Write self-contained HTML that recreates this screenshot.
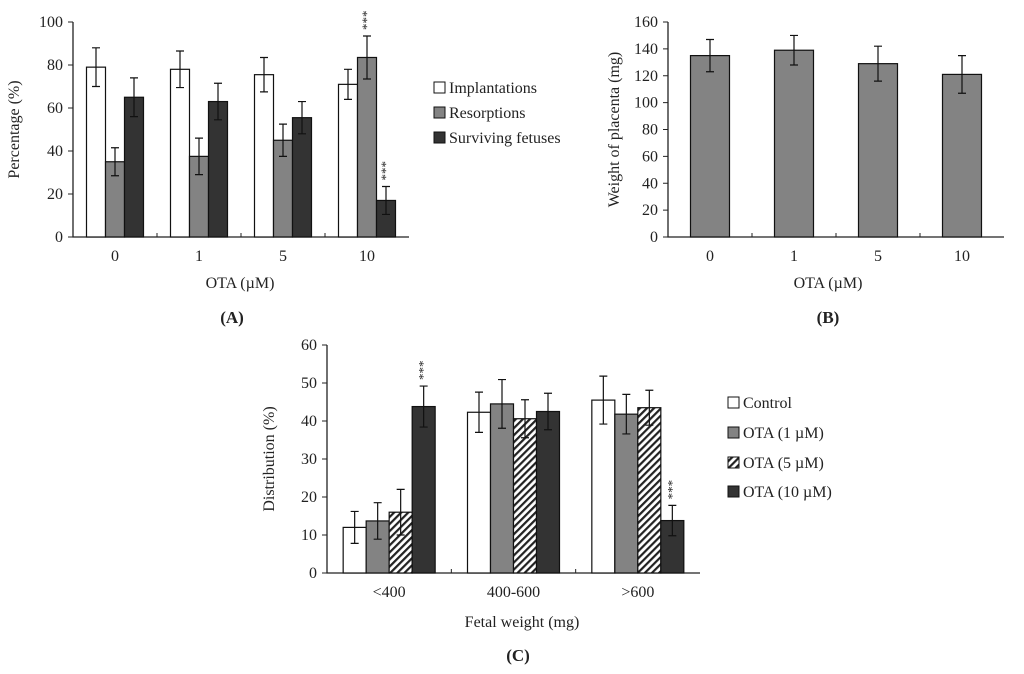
<!DOCTYPE html>
<html><head><meta charset="utf-8"><style>
body{margin:0;background:#fff;width:1024px;height:669px;overflow:hidden}
svg{font-family:"Liberation Serif",serif;font-size:16px;fill:#222}
</style></head><body>
<svg id="s" width="1024" height="669">
<defs><pattern id="hatch" patternUnits="userSpaceOnUse" width="5" height="5" patternTransform="rotate(45)"><rect width="5" height="5" fill="#fff"/><rect width="2.2" height="5" fill="#222"/></pattern></defs>
</svg>
<script>
// Panel A data
const catsA=["0","1","5","10"];
const implA=[79,78,75.5,71], implErrA=[9,8.5,8,7];
const resA=[35,37.5,45,83.5], resErrA=[6.5,8.5,7.5,10];
const survA=[65,63,55.5,17], survErrA=[9,8.5,7.5,6.5];
const ticksA=[0,20,40,60,80,100];
// Panel B data
const catsB=["0","1","5","10"];
const placB=[135,139,129,121], placErrB=[12,11,13,14];
const ticksB=[0,20,40,60,80,100,120,140,160];
// Panel C data
const catsC=["<400","400-600",">600"];
const ctrlC=[12,42.3,45.5], ctrlErrC=[4.2,5.3,6.3];
const ota1C=[13.7,44.5,41.8], ota1ErrC=[4.8,6.4,5.2];
const ota5C=[16,40.6,43.5], ota5ErrC=[6,5,4.6];
const ota10C=[43.8,42.5,13.8], ota10ErrC=[5.4,4.8,4];
const ticksC=[0,10,20,30,40,50,60];

const svg=document.getElementById('s');
const NS="http://www.w3.org/2000/svg";
function mk(tag,attrs,parent){const e=document.createElementNS(NS,tag);for(const k in attrs)e.setAttribute(k,attrs[k]);(parent||svg).appendChild(e);return e;}
function txt(x,y,s,parent,anchor,rot){const t=mk('text',{x:x,y:y,'text-anchor':anchor||'middle'},parent);if(rot)t.setAttribute('transform',`rotate(-90 ${x} ${y})`);t.textContent=s;return t;}

function chart(name,x0,x1,yTop,yBot,max,ticks,cats,series,barW,ytitle,ytx){
  const g=mk('g',{},svg);
  
  
  const ys=v=>yBot-(v/max)*(yBot-yTop);
  const cw=(x1-x0)/cats.length;
  const ax=mk('path',{d:`M${x0},${yTop}V${yBot}H${x1}`,stroke:'#222',fill:'none','stroke-width':1.3},g);
  
  
  ticks.forEach(t=>{mk('line',{x1:x0-5,x2:x0,y1:ys(t),y2:ys(t),stroke:'#222'},g);
    const l=txt(x0-10,ys(t)+5,String(t),g,'end');
    
    });
  for(let i=1;i<cats.length;i++)mk('line',{x1:x0+i*cw,x2:x0+i*cw,y1:yBot,y2:yBot-4,stroke:'#222'},g);
  cats.forEach((c,i)=>{const l=txt(x0+(i+0.5)*cw,yBot+24,c,g);
    
    });
  const n=series.length;
  series.forEach((s,si)=>{
    s.vals.forEach((v,i)=>{
      const cx=x0+(i+0.5)*cw, bx=cx-n*barW/2+si*barW;
      const r=mk('rect',{x:bx,y:ys(v),width:barW,height:yBot-ys(v),fill:s.fill,stroke:'#111','stroke-width':1.2},g);
      
      
      const m=bx+barW/2,e=s.err[i];
      mk('path',{d:`M${m},${ys(v+e)}V${ys(v-e)}M${m-4},${ys(v+e)}H${m+4}M${m-4},${ys(v-e)}H${m+4}`,stroke:'#111','stroke-width':1.2,fill:'none'},g);
      if(s.sig&&s.sig[i]){const t=mk('text',{x:m,y:ys(v+e)-6,'font-size':13,'text-anchor':'start',transform:`rotate(-90 ${m} ${ys(v+e)-6})`,dy:4},g);t.textContent='***';}
    });
  });
  const yt=txt(ytx,(yTop+yBot)/2,ytitle,g,'middle',true);
  
  
}
chart('chart-a',73,409,22,237,100,ticksA,catsA,[
 {key:'implantations',vals:implA,err:implErrA,fill:'#fff'},
 {key:'resorptions',vals:resA,err:resErrA,fill:'#838383',sig:[0,0,0,1]},
 {key:'surviving',vals:survA,err:survErrA,fill:'#333',sig:[0,0,0,1]}],19,'Percentage (%)',19);
chart('chart-b',668,1004,22,237,160,ticksB,catsB,[
 {key:'placenta',vals:placB,err:placErrB,fill:'#838383'}],39,'Weight of placenta (mg)',619);
chart('chart-c',327,700,345,573,60,ticksC,catsC,[
 {key:'control',vals:ctrlC,err:ctrlErrC,fill:'#fff'},
 {key:'ota1',vals:ota1C,err:ota1ErrC,fill:'#838383'},
 {key:'ota5',vals:ota5C,err:ota5ErrC,fill:'url(#hatch)'},
 {key:'ota10',vals:ota10C,err:ota10ErrC,fill:'#333',sig:[1,0,1]}],23,'Distribution (%)',274);

function legend(x,ys,items,name){
  const g=mk('g',{},svg);
  
  
  items.forEach((it,i)=>{
    mk('rect',{x:x,y:ys[i]-6,width:11,height:11,fill:it[1],stroke:'#111'},g);
    const t=txt(x+15,ys[i]+5,it[0],g,'start');
    
    
  });
}
legend(434,[88,113,138],[['Implantations','#fff'],['Resorptions','#838383'],['Surviving fetuses','#333']],'legend-a');
legend(728,[403,433,463,492],[['Control','#fff'],['OTA  (1 \u00b5M)','#838383'],['OTA  (5 \u00b5M)','url(#hatch)'],['OTA  (10 \u00b5M)','#333']],'legend-c');
[[240,288,'OTA (\u00b5M)','x-axis-title-a'],[828,288,'OTA (\u00b5M)','x-axis-title-b'],[522,627,'Fetal weight (mg)','x-axis-title-c']].forEach(a=>{
  const t=txt(a[0],a[1],a[2]);
  
  });
[[232,323,'(A)','panel-label-a'],[828,323,'(B)','panel-label-b'],[518,661,'(C)','panel-label-c']].forEach(a=>{
  const t=txt(a[0],a[1],a[2]);t.setAttribute('font-weight','bold');t.setAttribute('font-size','17');
  
  });
</script>
</body></html>
